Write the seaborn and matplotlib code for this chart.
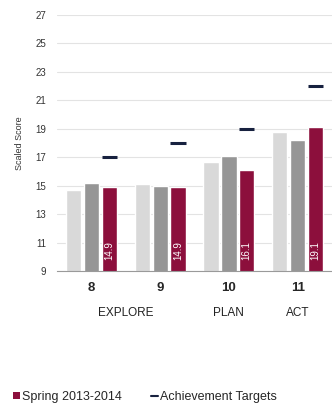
import numpy as np
import pandas as pd
import matplotlib
matplotlib.use('Agg')
import matplotlib.pyplot as plt
import matplotlib.transforms as mtransforms
from matplotlib.patches import Patch
from matplotlib.lines import Line2D
import seaborn as sns

# data
grades = ['8', '9', '10', '11']
tests = ['EXPLORE', 'EXPLORE', 'PLAN', 'ACT']
years = ['Spring 2011-2012', 'Spring 2012-2013', 'Spring 2013-2014']
scores_2012 = [14.7, 15.1, 16.7, 18.8]
scores_2013 = [15.2, 15.0, 17.1, 18.2]
scores_2014 = [14.9, 14.9, 16.1, 19.1]
targets = [17, 18, 19, 22]

df = pd.DataFrame({
    'grade': grades * 3,
    'year': np.repeat(years, 4),
    'score': scores_2012 + scores_2013 + scores_2014,
})

colors = ['#d9d9d9', '#969696', '#8c0f3c']
navy = '#17213f'

sns.set_style('white')
plt.rcParams['font.family'] = ['Liberation Sans', 'DejaVu Sans']

fig = plt.figure(figsize=(3.32, 4.04), dpi=100)
ax = fig.add_axes([0.172, 0.329, 0.828, 0.634])

sns.barplot(data=df, x='grade', y='score', hue='year', order=grades, hue_order=years,
            palette=colors, saturation=1, width=0.78, gap=0.15, ax=ax,
            legend=False, zorder=2)

ax.set_ylim(9, 27)
ax.set_yticks(np.arange(9, 28, 2))
ax.set_xlim(-0.5, 3.5)
ax.yaxis.grid(True, color='#e3e3e3', linewidth=0.8, zorder=0)
ax.set_axisbelow(True)
for s in ['top', 'right', 'left']:
    ax.spines[s].set_visible(False)
ax.spines['bottom'].set_color('#9a9a9a')
ax.spines['bottom'].set_linewidth(0.8)
ax.tick_params(axis='y', length=0, labelsize=7, labelcolor='#333333', pad=8)
ax.tick_params(axis='x', length=0, labelsize=9.5, pad=8)
for t in ax.get_xticklabels():
    t.set_fontweight('bold')
ax.set_xlabel('')
ax.set_ylabel('Scaled Score', fontsize=6.5, color='#333333', labelpad=8)

# targets and labels on the current-year bars
red_bars = ax.containers[2]
for bar, t, v in zip(red_bars, targets, scores_2014):
    x0 = bar.get_x()
    w = bar.get_width()
    ax.hlines(t, x0, x0 + w, color=navy, linewidth=2.2, zorder=3)
    ax.text(x0 + w / 2, 9.8, f'{v:.1f}', rotation=90, color='white',
            ha='center', va='bottom', fontsize=7, zorder=4)

# test names below the grades
trans = mtransforms.blended_transform_factory(ax.transData, ax.transAxes)
for x, name in [(0.5, 'EXPLORE'), (2, 'PLAN'), (3, 'ACT')]:
    ax.text(x, -0.165, name, transform=trans, ha='center', va='center',
            fontsize=8.5, color='#222222')

handles = [Patch(facecolor=colors[2], edgecolor='none'),
           Line2D([0], [0], color=navy, linewidth=1.5)]
fig.legend(handles, ['Spring 2013-2014', 'Achievement Targets'], loc='lower left',
           bbox_to_anchor=(0.005, -0.025), ncol=2, frameon=False, fontsize=9,
           handlelength=0.55, handleheight=0.55, handletextpad=0.2, columnspacing=2.3)

fig.savefig('out.png', dpi=100)
